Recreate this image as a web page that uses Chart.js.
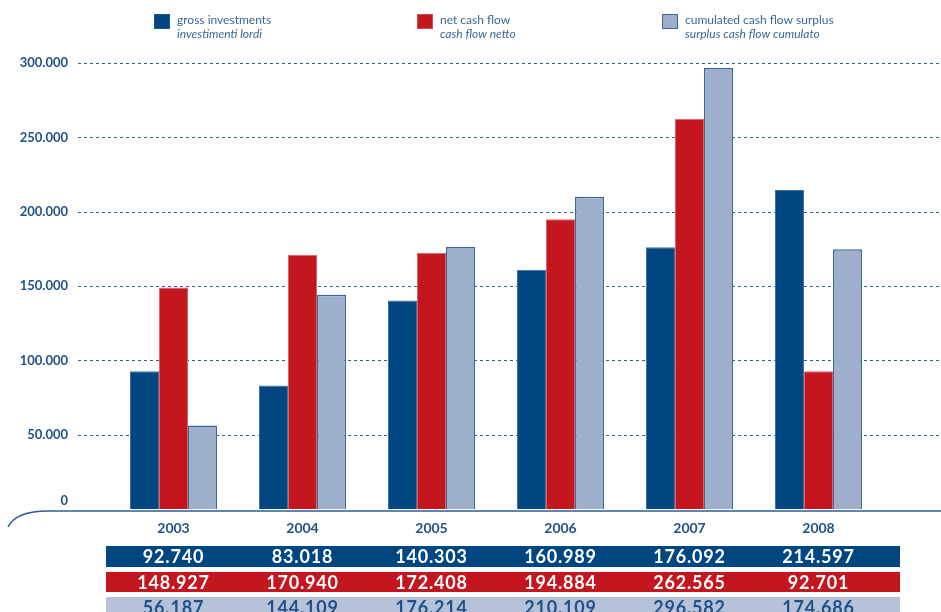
<!DOCTYPE html>
<html>
<head>
<meta charset="utf-8">
<script src="https://cdn.jsdelivr.net/npm/chart.js@4/dist/chart.umd.min.js"></script>
<style>
  html, body { margin: 0; padding: 0; background: #fff; }
</style>
</head>
<body>
<canvas id="chart" width="941" height="612"></canvas>
<script>
//-----------------------------------------------------------------------------
// data
//-----------------------------------------------------------------------------
var years = ['2003', '2004', '2005', '2006', '2007', '2008'];
var grossInvestments = [92740, 83018, 140303, 160989, 176092, 214597];
var netCashFlow = [148927, 170940, 172408, 194884, 262565, 92701];
var cumulatedSurplus = [56187, 144109, 176214, 210109, 296582, 174686];

var legendLabels = ['gross investments', 'net cash flow', 'cumulated cash flow surplus'];
var legendLabelsIt = ['investimenti lordi', 'cash flow netto', 'surplus cash flow cumulato'];
var yTickValues = [50000, 100000, 150000, 200000, 250000, 300000];

var NAVY = '#004781', RED = '#c3161f', LIGHT = '#9eafcc', LIGHT_EDGE = '#3b6898';
var TEXT = '#1f5188', FONT = 'Lato, "Open Sans", sans-serif';

// 12345 -> "12.345"
function fmt(v) {
  return String(v).replace(/\B(?=(\d{3})+(?!\d))/g, '.');
}

//-----------------------------------------------------------------------------
// extra drawing: dashed grid, curved baseline, legend, value table
//-----------------------------------------------------------------------------
var decorations = {
  id: 'decorations',
  beforeDatasetsDraw: function(chart) {
    var ctx = chart.ctx, y = chart.scales.y;
    ctx.save();
    ctx.strokeStyle = '#2f6195';
    ctx.lineWidth = 1;
    ctx.setLineDash([3, 3]);
    yTickValues.forEach(function(v) {
      var py = Math.round(y.getPixelForValue(v)) + 0.5;
      ctx.beginPath();
      ctx.moveTo(78, py);
      ctx.lineTo(941, py);
      ctx.stroke();
    });
    ctx.restore();
  },
  afterDatasetsDraw: function(chart) {
    var ctx = chart.ctx;
    var base = chart.scales.y.getPixelForValue(0) + 2;
    ctx.save();
    ctx.strokeStyle = '#2d5f95';
    ctx.lineWidth = 1.6;
    ctx.beginPath();
    ctx.moveTo(8, base + 16);
    ctx.quadraticCurveTo(16, base, 48, base);
    ctx.lineTo(941, base);
    ctx.stroke();

    // the zero label sits a little above the baseline in the original
    ctx.fillStyle = TEXT;
    ctx.font = 'bold 13px ' + FONT;
    ctx.textAlign = 'right';
    ctx.textBaseline = 'middle';
    ctx.fillText('0', 68, base - 10);
    ctx.restore();
  },
  afterDraw: function(chart) {
    var ctx = chart.ctx, x = chart.scales.x;
    ctx.save();

    // legend
    var legendX = [154, 417, 662];
    var fills = [NAVY, RED, LIGHT];
    var edges = ['#1d5590', '#d04a50', LIGHT_EDGE];
    legendX.forEach(function(lx, i) {
      ctx.fillStyle = fills[i];
      ctx.fillRect(lx, 14, 16, 15);
      ctx.strokeStyle = edges[i];
      ctx.lineWidth = 1;
      ctx.strokeRect(lx + 0.5, 14.5, 15, 14);
      ctx.fillStyle = '#3a6797';
      ctx.textAlign = 'left';
      ctx.textBaseline = 'middle';
      ctx.font = '12px ' + FONT;
      ctx.fillText(legendLabels[i], lx + 23, 20);
      ctx.font = 'italic 12px ' + FONT;
      ctx.fillText(legendLabelsIt[i], lx + 23, 34);
    });

    // value table under the axis
    var rows = [
      { values: grossInvestments, bg: NAVY, fg: '#ffffff', top: 546, h: 21 },
      { values: netCashFlow, bg: RED, fg: '#ffffff', top: 572, h: 20 },
      { values: cumulatedSurplus, bg: '#b6c2da', fg: TEXT, top: 597, h: 22 }
    ];
    ctx.font = 'bold 18px ' + FONT;
    ctx.letterSpacing = '0.8px';
    ctx.textAlign = 'center';
    ctx.textBaseline = 'middle';
    rows.forEach(function(r) {
      ctx.fillStyle = r.bg;
      ctx.fillRect(106, r.top, 794, r.h);
      ctx.fillStyle = r.fg;
      r.values.forEach(function(v, i) {
        ctx.fillText(fmt(v), x.getPixelForValue(i), r.top + 11);
      });
    });
    ctx.restore();
  }
};

//-----------------------------------------------------------------------------
// chart
//-----------------------------------------------------------------------------
new Chart(document.getElementById('chart'), {
  type: 'bar',
  data: {
    labels: years,
    datasets: [
      { label: legendLabels[0], data: grossInvestments, backgroundColor: NAVY, borderColor: '#3f6f9f', borderWidth: 1 },
      { label: legendLabels[1], data: netCashFlow, backgroundColor: RED, borderColor: '#d7666b', borderWidth: 1 },
      { label: legendLabels[2], data: cumulatedSurplus, backgroundColor: LIGHT, borderColor: LIGHT_EDGE, borderWidth: 1.5 }
    ]
  },
  options: {
    responsive: false,
    animation: false,
    layout: { padding: { top: 63, right: 58, bottom: 0, left: 0 } },
    datasets: { bar: { categoryPercentage: 0.675, barPercentage: 1.0 } },
    plugins: { legend: { display: false }, tooltip: { enabled: false } },
    scales: {
      x: {
        grid: { display: false, drawTicks: false },
        border: { display: false },
        ticks: { color: TEXT, font: { family: FONT, size: 14, weight: 'bold' }, padding: 11 },
        afterFit: function(scale) { scale.height = 103; }
      },
      y: {
        min: 0,
        max: 300000,
        grid: { display: false, drawTicks: false },
        border: { display: false },
        ticks: {
          stepSize: 50000,
          padding: 41,
          color: TEXT,
          font: { family: FONT, size: 13, weight: 'bold' },
          // zero is drawn by the plugin, slightly raised
          callback: function(v) { return v === 0 ? '' : fmt(v); }
        },
        afterFit: function(scale) { scale.width = 109; }
      }
    }
  },
  plugins: [decorations]
});
</script>
</body>
</html>
